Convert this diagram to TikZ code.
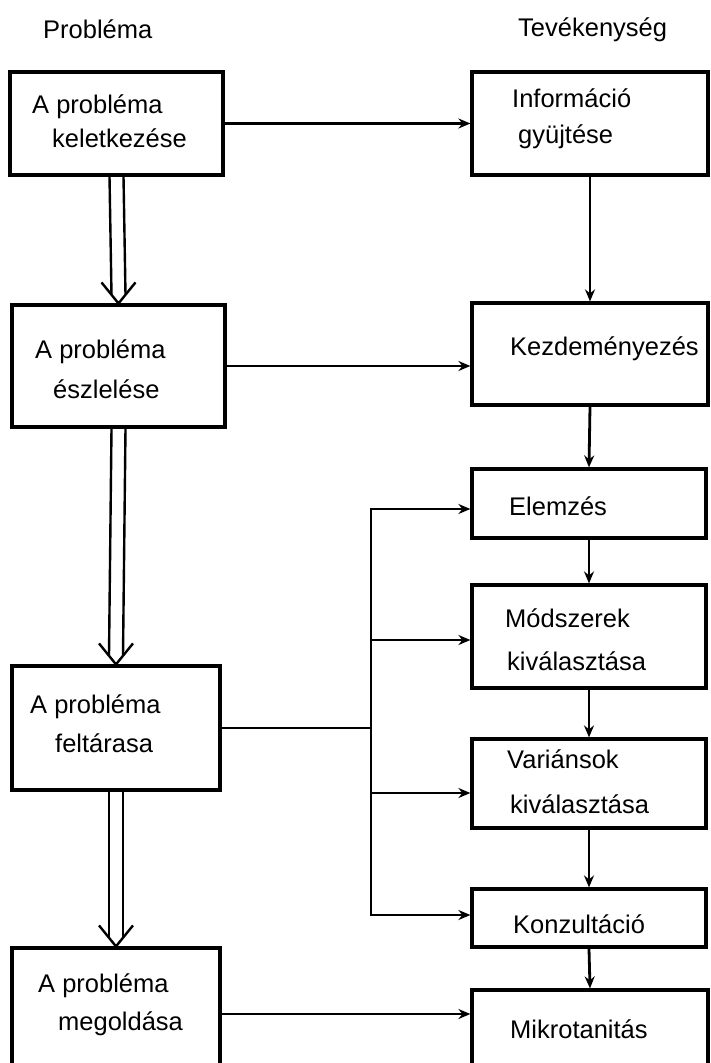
\documentclass[tikz,border=0pt]{standalone}
\usepackage{fontspec}
\setmainfont{Liberation Sans}
\usetikzlibrary{arrows.meta}
\newcommand{\dblarr}[2]{%
  \draw[dline] ([xshift=-7pt]#1.south) -- ([xshift=-7pt,yshift=9pt]#2.north);
  \draw[dline] ([xshift=7pt]#1.south) -- ([xshift=7pt,yshift=9pt]#2.north);
  \draw[dline, line join=miter] ([xshift=-17pt,yshift=21pt]#2.north) -- (#2.north) -- ([xshift=17pt,yshift=21pt]#2.north);}
\begin{document}
\begin{tikzpicture}[x=1pt,y=-1pt,
  box/.style={draw, line width=3.2pt, rectangle, inner sep=0pt},
  lbl/.style={anchor=base west, inner sep=0pt, font=\fontsize{25.5}{30}\selectfont},
  conn/.style={line width=2.8pt, -{Stealth[length=12pt,width=10pt]}},
  plain/.style={line width=2.8pt},
  dline/.style={line width=2.4pt}]
\useasboundingbox (0,0) rectangle (710,1063);
\clip (0,0) rectangle (710,1063);

% headers
\node[lbl] (hP) at (43,38) {Probléma};
\node[lbl] (hT) at (518,36) {Tevékenység};

% left column boxes
\node[box, minimum width=213pt, minimum height=103pt] (p1) at (116.5,123.5) {};
\node[box, minimum width=213pt, minimum height=122pt] (p2) at (118.5,366) {};
\node[box, minimum width=208pt, minimum height=124pt] (p3) at (116,728) {};
\node[box, minimum width=208pt, minimum height=132pt] (p4) at (116,1014) {};

% right column boxes
\node[box, minimum width=236pt, minimum height=103pt] (t1) at (590,123.5) {};
\node[box, minimum width=236pt, minimum height=102pt] (t2) at (590,354) {};
\node[box, minimum width=234pt, minimum height=69pt] (t3) at (589,503.5) {};
\node[box, minimum width=234pt, minimum height=103pt] (t4) at (589,636.5) {};
\node[box, minimum width=234pt, minimum height=89pt] (t5) at (589,783.5) {};
\node[box, minimum width=234pt, minimum height=58pt] (t6) at (589,918) {};
\node[box, minimum width=236pt, minimum height=90pt] (t7) at (590,1035) {};

% texts left
\node[lbl] (p1a) at (32,113) {A probléma};
\node[lbl] (p1b) at (52,147) {keletkezése};
\node[lbl] (p2a) at (35,358) {A probléma};
\node[lbl] (p2b) at (53,398) {észlelése};
\node[lbl] (p3a) at (30,713) {A probléma};
\node[lbl] (p3b) at (55,752) {feltárasa};
\node[lbl] (p4a) at (38,992) {A probléma};
\node[lbl] (p4b) at (58,1030) {megoldása};

% texts right
\node[lbl] (t1a) at (512,107) {Információ};
\node[lbl] (t1b) at (518,143) {gyüjtése};
\node[lbl] (t2a) at (510,355) {Kezdeményezés};
\node[lbl] (t3a) at (509,515) {Elemzés};
\node[lbl] (t4a) at (505,627) {Módszerek};
\node[lbl] (t4b) at (507,670) {kiválasztása};
\node[lbl] (t5a) at (507,768) {Variánsok};
\node[lbl] (t5b) at (510,813) {kiválasztása};
\node[lbl] (t6a) at (513,933) {Konzultáció};
\node[lbl] (t7a) at (510,1038) {Mikrotanitás};

% double arrows (problem column)
\dblarr{p1}{p2}
\dblarr{p2}{p3}
\dblarr{p3}{p4}

% horizontal connectors
\draw[conn] (p1.east) -- (t1.west);
\draw[conn] (p2.east) -- (p2.east -| t2.west);
\draw[conn] (p4.east) -- (p4.east -| t7.west);

% bus from p3
\coordinate (j3) at (371,509);
\coordinate (j4) at (371,640);
\coordinate (j5) at (371,793);
\coordinate (j6) at (371,915);
\draw[plain] (p3.east) -- (p3.east -| j3);
\draw[plain, line cap=rect] (j3) -- (j6);
\draw[conn] (j3) -- (j3 -| t3.west);
\draw[conn] (j4) -- (j4 -| t4.west);
\draw[conn] (j5) -- (j5 -| t5.west);
\draw[conn] (j6) -- (j6 -| t6.west);

% vertical connectors (activity column)
\draw[conn] (t1.south) -- (t2.north);
\draw[conn] (t2.south) -- (t3.north);
\draw[conn] (t3.south) -- (t4.north);
\draw[conn] (t4.south) -- (t5.north);
\draw[conn] (t5.south) -- (t6.north);
\draw[conn] (t6.south) -- (t7.north);
\end{tikzpicture}
\end{document}
